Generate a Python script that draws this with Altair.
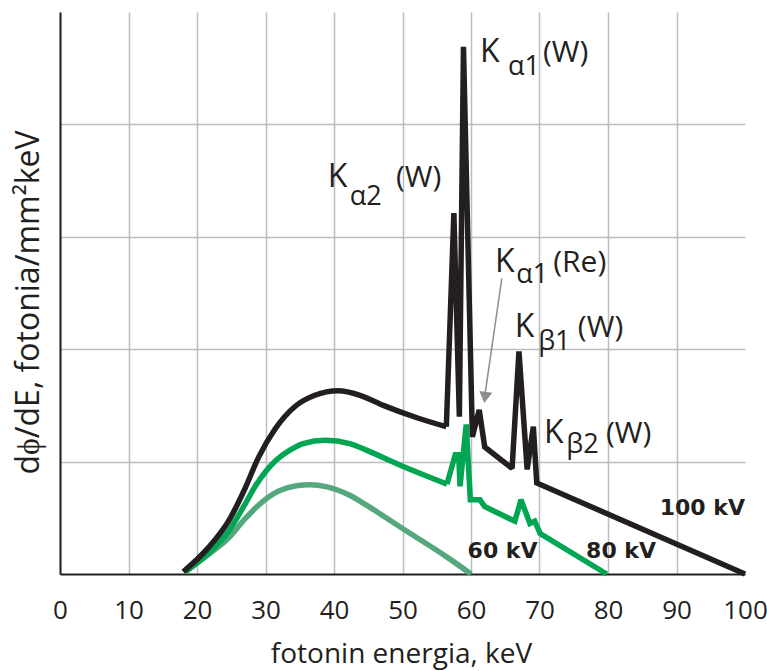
import altair as alt
import pandas as pd

# ---------------- data ----------------
# 100 kV spectrum: smooth bremsstrahlung part
kv100_smooth_x = [18.0, 21.6, 24.6, 27.0, 29.0, 31.4, 34.3, 37.2, 40.6, 43.8, 47.2, 52.1, 56.4]
kv100_smooth_y = [0.02, 0.23, 0.47, 0.76, 1.04, 1.29, 1.49, 1.59, 1.63, 1.59, 1.50, 1.39, 1.31]
# 100 kV spectrum: characteristic lines + tail
kv100_peak_x = [56.4, 57.5, 58.3, 58.9, 60.2, 61.2, 62.0, 66.0, 67.0, 68.2, 69.1, 69.6, 100.0]
kv100_peak_y = [1.31, 3.21, 1.40, 4.69, 1.22, 1.46, 1.13, 0.94, 1.98, 0.93, 1.31, 0.81, 0.0]

# 80 kV spectrum
kv80_smooth_x = [18.3, 21.6, 24.6, 27.0, 28.5, 30.0, 31.5, 33.5, 35.5, 38.7, 42.3, 44.8, 49.6, 56.5]
kv80_smooth_y = [0.02, 0.18, 0.38, 0.62, 0.78, 0.91, 1.01, 1.10, 1.16, 1.19, 1.16, 1.10, 0.97, 0.80]
kv80_peak_x = [56.5, 57.7, 58.2, 58.4, 59.3, 59.9, 61.3, 62.0, 66.4, 67.3, 68.6, 69.3, 70.1, 79.8]
kv80_peak_y = [0.80, 1.06, 1.06, 0.78, 1.33, 0.66, 0.66, 0.60, 0.47, 0.66, 0.45, 0.47, 0.36, 0.0]

# 60 kV spectrum
kv60_x = [18.3, 21.6, 24.6, 27.0, 29.5, 32.0, 34.5, 36.5, 39.0, 42.3, 44.8, 49.6, 56.5, 60.0]
kv60_y = [0.02, 0.17, 0.32, 0.49, 0.64, 0.74, 0.785, 0.795, 0.775, 0.70, 0.61, 0.42, 0.15, 0.0]

# annotation pieces (text, x, baseline y, font size)
ann_text = ["K", "α1", "(W)",
            "K", "α2", "(W)",
            "K", "α1", "(Re)",
            "K", "β1", "(W)",
            "K", "β2", "(W)"]
ann_x = [61.3, 65.4, 70.5,
         39.1, 42.3, 49.05,
         63.5, 66.6, 72.0,
         66.4, 69.8, 75.6,
         70.66, 73.9, 79.7]
ann_y = [4.555, 4.44, 4.555,
         3.44, 3.28, 3.44,
         2.687, 2.59, 2.687,
         2.109, 1.99, 2.109,
         1.165, 1.077, 1.165]
ann_size = [32, 27, 30,
            32, 27, 30,
            32, 27, 30,
            32, 27, 30,
            32, 27, 30]

kv_text = ["100 kV", "60 kV", "80 kV"]
kv_x = [100.0, 59.5, 76.8]
kv_y = [0.525, 0.14, 0.14]
kv_align = ["right", "left", "left"]

arrow_x = [64.5, 62.1]
arrow_y = [2.63, 1.62]
arrowhead_x = [62.05]
arrowhead_y = [1.57]

x_ticks = [0, 10, 20, 30, 40, 50, 60, 70, 80, 90, 100]
y_grid = [1, 2, 3, 4]

BLACK = "#231f20"
GREEN = "#00a651"
MUTED = "#55a87d"
GRID = "#bdbdc1"
FONT = "Open Sans"

xs = alt.Scale(domain=[0, 100], nice=False, zero=False)
ys = alt.Scale(domain=[0, 5], nice=False)

x_axis = alt.Axis(values=x_ticks, grid=True, gridColor=GRID, gridWidth=1.5,
                  gridOpacity=alt.expr("datum.value == 100 ? 0 : 1"),
                  ticks=False, tickSize=0, domainColor=BLACK, domainWidth=2,
                  labelFont=FONT, labelFontSize=26, labelColor=BLACK,
                  labelFlush=False, labelOverlap=False,
                  labelBaseline="alphabetic", labelPadding=44,
                  title="fotonin energia, keV", titleFont=FONT, titleFontSize=28,
                  titleFontWeight="normal", titleColor=BLACK,
                  titleBaseline="alphabetic", titleX=341, titleY=88, titleAlign="center")
y_axis = alt.Axis(values=y_grid, grid=True, gridColor=GRID, gridWidth=1.5,
                  ticks=False, labels=False, domainColor=BLACK, domainWidth=2,
                  title="dϕ/dE, fotonia/mm²keV", titleFont=FONT, titleFontSize=32,
                  titleFontWeight="normal", titleColor=BLACK, titleAngle=-90,
                  titleBaseline="alphabetic", titleX=-22, titleY=290, titleAlign="center")


def line(xv, yv, color, interp):
    df = pd.DataFrame({"x": xv, "y": yv})
    return alt.Chart(df).mark_line(color=color, strokeWidth=5.5, interpolate=interp,
                                   strokeJoin="miter", strokeMiterLimit=2).encode(
        x=alt.X("x:Q", scale=xs, axis=x_axis),
        y=alt.Y("y:Q", scale=ys, axis=y_axis),
    )


layers = [
    line(kv60_x, kv60_y, MUTED, "monotone"),
    line(kv80_smooth_x, kv80_smooth_y, GREEN, "monotone"),
    line(kv80_peak_x, kv80_peak_y, GREEN, "linear"),
    line(kv100_smooth_x, kv100_smooth_y, BLACK, "monotone"),
    line(kv100_peak_x, kv100_peak_y, BLACK, "linear"),
]

arrow = alt.Chart(pd.DataFrame({"x": [arrow_x[0]], "y": [arrow_y[0]],
                                "x2": [arrow_x[1]], "y2": [arrow_y[1]]})).mark_rule(
    color="#8c8d8f", strokeWidth=1.5).encode(
    x=alt.X("x:Q", scale=xs), y=alt.Y("y:Q", scale=ys), x2="x2:Q", y2="y2:Q")

head = alt.Chart(pd.DataFrame({"x": arrowhead_x, "y": arrowhead_y})).mark_point(
    shape="triangle-down", size=170, filled=True, color="#8c8d8f", opacity=1, angle=8).encode(
    x=alt.X("x:Q", scale=xs), y=alt.Y("y:Q", scale=ys))

ann = alt.Chart(pd.DataFrame({"t": ann_text, "x": ann_x, "y": ann_y, "s": ann_size})).mark_text(
    font=FONT, color=BLACK, align="left", baseline="alphabetic").encode(
    x=alt.X("x:Q", scale=xs), y=alt.Y("y:Q", scale=ys), text="t:N",
    size=alt.Size("s:Q", scale=None, legend=None))

kv_layers = []
for t, xv, yv, al in zip(kv_text, kv_x, kv_y, kv_align):
    kv_layers.append(alt.Chart(pd.DataFrame({"t": [t], "x": [xv], "y": [yv]})).mark_text(
        font="DejaVu Sans", fontSize=22, fontWeight="bold", color=BLACK, align=al,
        baseline="alphabetic").encode(
        x=alt.X("x:Q", scale=xs), y=alt.Y("y:Q", scale=ys), text="t:N"))

chart = alt.layer(*layers, arrow, head, ann, *kv_layers).properties(
    width=685, height=562,
    autosize=alt.AutoSizeParams(type="none"),
    padding={"left": 60, "top": 12, "right": 22, "bottom": 97},
    background="white",
).configure_view(stroke=None)

chart.save("out.html", embed_options={"renderer": "svg", "actions": False})
